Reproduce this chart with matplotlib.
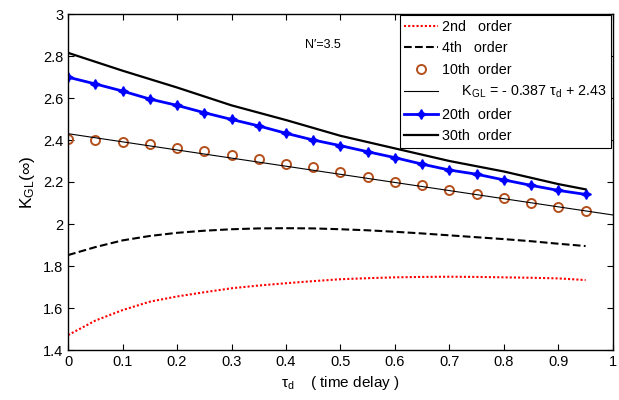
#!/usr/bin/env python3
"""K_GL(inf) vs time delay for several approximation orders."""
import matplotlib
matplotlib.use("Agg")
import matplotlib.pyplot as plt
from matplotlib.ticker import FuncFormatter

plt.rcParams["font.family"] = ["Liberation Sans", "DejaVu Sans"]
plt.rcParams["mathtext.fontset"] = "custom"
plt.rcParams["mathtext.rm"] = "Liberation Sans"
plt.rcParams["mathtext.it"] = "Liberation Sans"

tau = [0.0, 0.05, 0.1, 0.15, 0.2, 0.25, 0.3, 0.35, 0.4, 0.45,
       0.5, 0.55, 0.6, 0.65, 0.7, 0.75, 0.8, 0.85, 0.9, 0.95]

k2 = [1.471, 1.54, 1.59, 1.63, 1.655, 1.675, 1.694, 1.707, 1.718, 1.728,
      1.737, 1.742, 1.746, 1.748, 1.749, 1.748, 1.746, 1.744, 1.741, 1.733]
k4 = [1.852, 1.89, 1.922, 1.943, 1.958, 1.968, 1.975, 1.979, 1.98, 1.979,
      1.975, 1.97, 1.963, 1.955, 1.946, 1.937, 1.928, 1.918, 1.906, 1.895]
k10 = [2.405, 2.40, 2.392, 2.379, 2.363, 2.349, 2.329, 2.309, 2.284, 2.27,
       2.246, 2.225, 2.201, 2.184, 2.162, 2.141, 2.122, 2.101, 2.082, 2.063]
k20 = [2.699, 2.667, 2.633, 2.595, 2.565, 2.530, 2.498, 2.467, 2.432, 2.40,
       2.373, 2.344, 2.316, 2.285, 2.257, 2.237, 2.21, 2.184, 2.16, 2.141]

tau30 = [0.0, 0.1, 0.2, 0.3, 0.4, 0.5, 0.6, 0.7, 0.8, 0.9, 0.95]
k30 = [2.815, 2.73, 2.65, 2.565, 2.495, 2.42, 2.36, 2.30, 2.25, 2.19, 2.165]

# linear fit K_GL = -0.387 tau_d + 2.43
fit_tau = [0.0, 1.0]
fit_slope, fit_icpt = -0.387, 2.43


def main() -> None:
    fig = plt.figure(figsize=(6.19, 4.0), dpi=100)
    ax = fig.add_axes([0.110, 0.125, 0.880, 0.840])

    ax.plot(tau, k2, color="red", ls=(0, (1, 1)), lw=1.5, label="2nd   order")
    ax.plot(tau, k4, color="black", ls="--", lw=1.5, label="4th   order")
    ax.plot(tau, k10, ls="none", marker="o", ms=6.5, mfc="none",
            mec="#b4501e", mew=1.4, label="10th  order")
    ax.plot(fit_tau, [fit_slope * t + fit_icpt for t in fit_tau],
            color="black", lw=0.8,
            label=r"     $\mathregular{K_{GL}}$ = - 0.387 $\tau_\mathregular{d}$ + 2.43")
    ax.plot(tau, k20, color="blue", lw=2, marker=(4, 1, 0), ms=7,
            label="20th  order")
    ax.plot(tau30, k30, color="black", lw=1.6, label="30th  order")

    ax.text(0.435, 2.85, "N\u2032=3.5", fontsize=9, va="center")

    ax.set_xlim(0, 1)
    ax.set_ylim(1.4, 3)
    ax.set_xticks([i / 10 for i in range(11)])
    ax.set_yticks([1.4 + 0.2 * i for i in range(9)])
    fmt = FuncFormatter(lambda v, _: f"{v:g}")
    ax.xaxis.set_major_formatter(fmt)
    ax.yaxis.set_major_formatter(fmt)
    ax.tick_params(direction="in", top=True, right=True, labelsize=10.5,
                   length=4, width=0.8)
    for s in ax.spines.values():
        s.set_linewidth(1.0)

    ax.set_xlabel(r"$\tau_\mathregular{d}$    ( time delay )", fontsize=11)
    ax.set_ylabel(r"$\mathregular{K_{GL}(\infty)}$", fontsize=12.5)

    leg = ax.legend(loc="upper right", fontsize=10.3, frameon=True, fancybox=False,
                    edgecolor="black", framealpha=1, borderpad=0.3,
                    labelspacing=0.52, handlelength=2.4, handletextpad=0.3,
                    borderaxespad=0.1)
    leg.get_frame().set_linewidth(0.8)

    fig.savefig("out.png", dpi=100)
    plt.close(fig)


if __name__ == "__main__":
    main()
